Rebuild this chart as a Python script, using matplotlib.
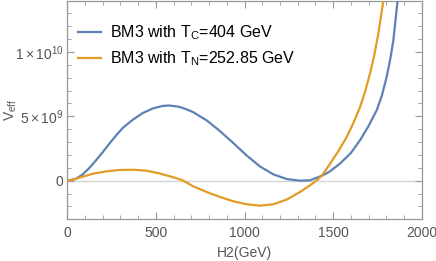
import matplotlib
matplotlib.use("Agg")
import matplotlib.pyplot as plt
from matplotlib.ticker import MultipleLocator, FixedLocator

plt.rcParams['font.family'] = ['Liberation Sans', 'DejaVu Sans']
plt.rcParams['mathtext.fontset'] = 'custom'
plt.rcParams['mathtext.rm'] = 'Liberation Sans'
plt.rcParams['mathtext.it'] = 'Liberation Sans'

# H2 (GeV) and V_eff values
h_tc = [0, 11, 49, 87, 124, 162, 200, 237, 275, 313, 369, 425, 482, 538, 576,
        632, 670, 711, 787, 862, 937, 1012, 1087, 1163, 1238, 1313, 1370, 1407,
        1440, 1482, 1539, 1600, 1652, 1700, 1746, 1775, 1802, 1822, 1840, 1864]
v_tc = [0, 0.03e9, 0.15e9, 0.49e9, 0.98e9, 1.58e9, 2.22e9, 2.87e9, 3.51e9,
        4.1e9, 4.73e9, 5.25e9, 5.61e9, 5.81e9, 5.84e9, 5.74e9, 5.56e9, 5.32e9,
        4.68e9, 3.85e9, 2.92e9, 1.96e9, 1.11e9, 0.49e9, 0.13e9, 0.0, 0.03e9,
        0.23e9, 0.4e9, 0.72e9, 1.33e9, 2.15e9, 3.14e9, 4.25e9, 5.47e9, 6.6e9,
        8.05e9, 9.4e9, 10.9e9, 14e9]

h_tn = [0, 11, 68, 143, 218, 293, 369, 444, 519, 595, 651, 711, 787, 862, 937,
        1012, 1087, 1163, 1238, 1313, 1370, 1398, 1417, 1440, 1460, 1482, 1530,
        1577, 1615, 1652, 1680, 1708, 1733, 1755, 1784]
v_tn = [0, 0.0, 0.23e9, 0.54e9, 0.72e9, 0.83e9, 0.85e9, 0.78e9, 0.57e9,
        0.28e9, 0.03e9, -0.44e9, -0.88e9, -1.27e9, -1.6e9, -1.83e9, -1.94e9,
        -1.83e9, -1.47e9, -0.88e9, -0.36e9, -0.07e9, 0.13e9, 0.45e9, 0.85e9,
        1.3e9, 2.3e9, 3.4e9, 4.5e9, 5.72e9, 6.9e9, 8.3e9, 9.8e9, 11.4e9, 14e9]

labels = [r'BM3 with T$_{\mathrm{C}}$=404 GeV', r'BM3 with T$_{\mathrm{N}}$=252.85 GeV']
colors = ['#5E81B5', '#E19C24']
xticks = [0, 500, 1000, 1500, 2000]
yticks = [0, 5e9, 1e10]
yticklabels = ['0', r'$5\times10^{9}$', r'$1\times10^{10}$']

W, H = 436, 261
fig = plt.figure(figsize=(W / 100, H / 100), dpi=100)
l, r, t, b = 67.3, 421.7, 0.5, 219.3
ax = fig.add_axes([l / W, (H - b) / H, (r - l) / W, (b - t) / H])

ax.axhline(0, color='#d4d4d4', lw=1.0, zorder=1)
ax.plot(h_tc, v_tc, color=colors[0], lw=1.6, label=labels[0], zorder=3)
ax.plot(h_tn, v_tn, color=colors[1], lw=1.6, label=labels[1], zorder=3)

ax.set_xlim(0, 2000)
ax.set_ylim(-3e9, 1.4e10)

ax.xaxis.set_major_locator(FixedLocator(xticks))
ax.xaxis.set_minor_locator(MultipleLocator(100))
ax.yaxis.set_major_locator(FixedLocator(yticks))
ax.yaxis.set_minor_locator(MultipleLocator(1e9))
ax.set_xticklabels([str(v) for v in xticks])
ax.set_yticklabels(yticklabels)

for s in ax.spines.values():
    s.set_color('#999999')
    s.set_linewidth(0.9)
ax.tick_params(which='both', direction='in', top=True, right=True,
               color='#999999', labelcolor='#555555', labelsize=10)
ax.tick_params(which='major', length=5, width=0.8)
ax.tick_params(axis='x', which='major', pad=5)
ax.tick_params(axis='y', which='major', pad=3)
ax.tick_params(which='minor', length=3, width=0.6)

ax.set_xlabel('H2(GeV)', color='#555555', fontsize=10)
ax.xaxis.set_label_coords(0.5, -0.123)
ax.set_ylabel(r'V$_{\mathrm{eff}}$', color='#555555', fontsize=10)
ax.yaxis.set_label_coords(-0.135, 0.5)

leg = ax.legend(loc='upper left', bbox_to_anchor=(0.012, 0.925), frameon=False,
                fontsize=11.5, handlelength=1.45, handletextpad=0.55,
                labelspacing=0.45, borderaxespad=0)

fig.savefig('out.png', dpi=100)
